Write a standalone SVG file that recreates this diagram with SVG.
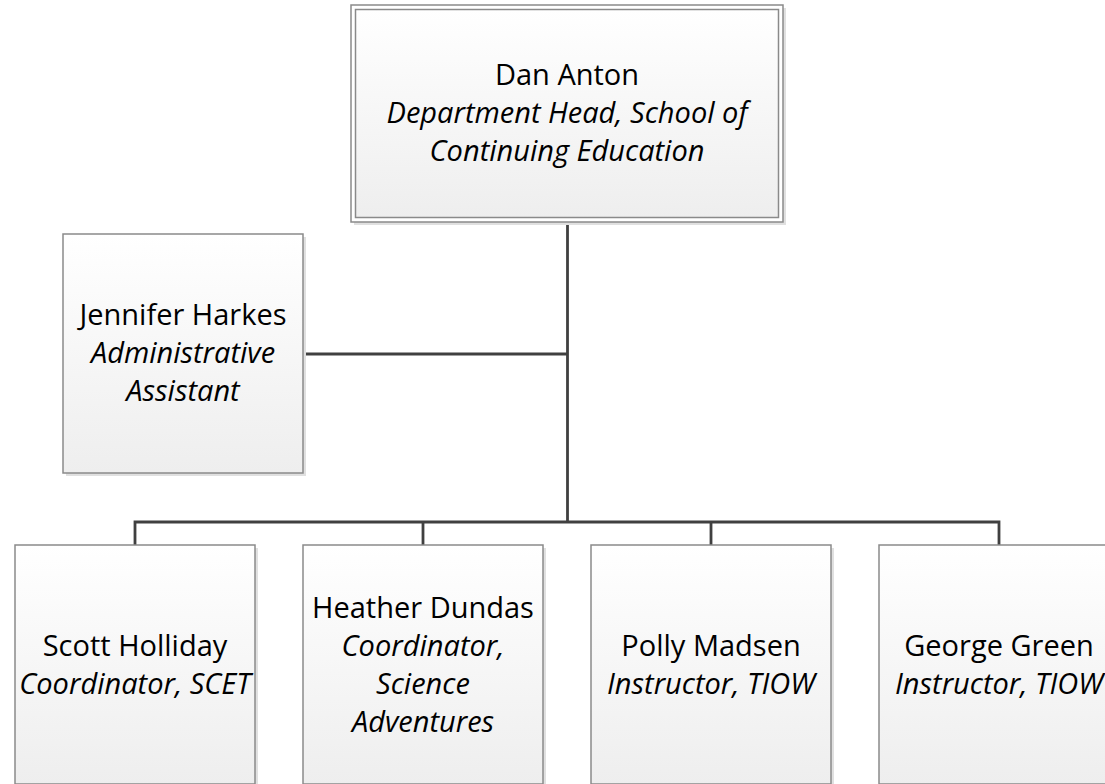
<svg xmlns="http://www.w3.org/2000/svg" width="1105" height="784" viewBox="0 0 1105 784">
<defs>
<linearGradient id="g" x1="0" y1="0" x2="0" y2="1">
<stop offset="0" stop-color="#ffffff"/>
<stop offset="1" stop-color="#eeeeee"/>
</linearGradient>
</defs>
<style>
.box{fill:url(#g);stroke:#8a8a8a;stroke-width:1.5}
.sh{fill:#e0e0e0}
.frame{fill:#ffffff;stroke:#8a8a8a;stroke-width:1.5}
.c{fill:none;stroke:#404040;stroke-width:2.8}
text{font-family:"Open Sans","Liberation Sans",sans-serif;font-size:29px;fill:#000;text-anchor:middle}
.i{font-style:italic}
</style>
<rect width="1105" height="784" fill="#ffffff"/>
<g id="connectors">
<path class="c" d="M567.5 222 V522"/>
<path class="c" d="M303 354 H567.5"/>
<path class="c" d="M135 545 V522 H999 V545"/>
<path class="c" d="M423 522 V545"/>
<path class="c" d="M711 522 V545"/>
</g>
<g id="dan">
<rect class="sh" x="354" y="8" width="432" height="217"/>
<rect class="frame" x="351" y="5" width="432" height="217"/>
<rect class="box" x="355.5" y="9.5" width="423" height="208"/>
<text x="567" y="85">Dan Anton</text>
<text class="i" x="567" y="123">Department Head, School of</text>
<text class="i" x="567" y="161">Continuing Education</text>
</g>
<g id="jennifer">
<rect class="sh" x="66" y="237" width="240" height="239"/>
<rect class="box" x="63" y="234" width="240" height="239"/>
<text x="183" y="325">Jennifer Harkes</text>
<text class="i" x="183" y="363">Administrative</text>
<text class="i" x="183" y="401">Assistant</text>
</g>
<g id="scott">
<rect class="sh" x="18" y="548" width="240" height="239"/>
<rect class="box" x="15" y="545" width="240" height="239"/>
<text x="135" y="656">Scott Holliday</text>
<text class="i" x="135" y="694">Coordinator, SCET</text>
</g>
<g id="heather">
<rect class="sh" x="306" y="548" width="240" height="239"/>
<rect class="box" x="303" y="545" width="240" height="239"/>
<text x="423" y="618">Heather Dundas</text>
<text class="i" x="423" y="656">Coordinator,</text>
<text class="i" x="423" y="694">Science</text>
<text class="i" x="423" y="732">Adventures</text>
</g>
<g id="polly">
<rect class="sh" x="594" y="548" width="240" height="239"/>
<rect class="box" x="591" y="545" width="240" height="239"/>
<text x="711" y="656">Polly Madsen</text>
<text class="i" x="711" y="694">Instructor, TIOW</text>
</g>
<g id="george">
<rect class="sh" x="882" y="548" width="240" height="239"/>
<rect class="box" x="879" y="545" width="240" height="239"/>
<text x="999" y="656">George Green</text>
<text class="i" x="999" y="694">Instructor, TIOW</text>
</g>
</svg>
